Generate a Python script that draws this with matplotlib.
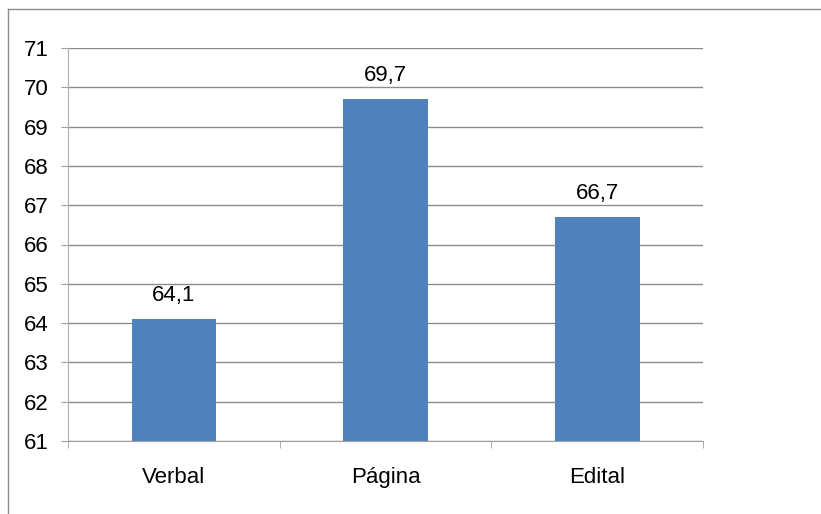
import matplotlib.pyplot as plt
from matplotlib.lines import Line2D

categorias = ['Verbal', 'Página', 'Edital']
valores = [64.1, 69.7, 66.7]
yticks = list(range(61, 72))

plt.rcParams['font.family'] = ['Liberation Sans', 'DejaVu Sans']

fig = plt.figure(figsize=(8.21, 5.14), dpi=100)
W, H = 821, 514
ax = fig.add_axes([68 / W, 1 - 441 / H, (703 - 68) / W, (441 - 48) / H])

x = list(range(len(categorias)))
ax.bar(x, [v - 61 for v in valores], bottom=61, width=0.4, color='#4F81BD', zorder=3)

for xi, v in zip(x, valores):
    ax.annotate(f'{v:.1f}'.replace('.', ','), (xi, v), xytext=(0, 13),
                textcoords='offset points', ha='center', va='baseline', fontsize=16)

ax.set_xlim(-0.5, len(categorias) - 0.5)
ax.set_ylim(61, 71)
ax.set_yticks(yticks)
ax.set_yticklabels([str(t) for t in yticks], fontsize=16)
ax.set_xticks(x)
ax.set_xticklabels(categorias, fontsize=16)
ax.set_xticks([i - 0.5 for i in range(len(categorias) + 1)], minor=True)

ax.tick_params(axis='x', which='major', length=0, pad=19)
ax.tick_params(axis='x', which='minor', length=5, color='#a0a0a0', direction='out')
ax.tick_params(axis='y', length=5, color='#a0a0a0', pad=9)

ax.grid(axis='y', color='#8c8c8c', linewidth=1, zorder=0)
for s in ['top', 'right']:
    ax.spines[s].set_visible(False)
ax.spines['left'].set_color('#b0b0b0')
ax.spines['bottom'].set_color('#a0a0a0')

# moldura do grafico
fig.add_artist(Line2D([8 / W, 8 / W], [0, 1 - 9 / H], color='#8c8c8c', linewidth=1))
fig.add_artist(Line2D([8 / W, 1], [1 - 9 / H, 1 - 9 / H], color='#8c8c8c', linewidth=1))

fig.savefig('out.png', dpi=100)
